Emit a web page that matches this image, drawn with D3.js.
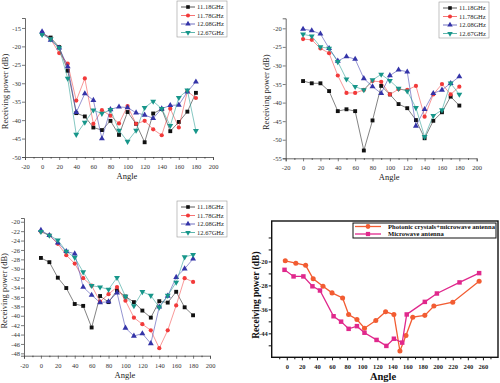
<!DOCTYPE html>
<html>
<head>
<meta charset="utf-8">
<script src="https://cdn.jsdelivr.net/npm/d3@7"></script>
<style>
  body { margin: 0; background: #fff; }
  svg { display: block; }
  text { font-family: "Liberation Serif", "DejaVu Serif", serif; }
</style>
</head>
<body>
<div id="chart"></div>
<script>
// ---- data ----
const angles = [0, 10, 20, 30, 40, 50, 60, 70, 80, 90, 100, 110, 120, 130, 140, 150, 160, 170, 180]
const freqNames = ['11.18GHz', '11.78GHz', '12.08GHz', '12.67GHz']

// panel a (top left)
const a1118 = [-16.5, -17.6, -20.2, -26.6, -38.1, -39, -42, -42.7, -40.2, -44, -37.8, -41, -46, -38.2, -37, -43, -40.5, -37.7, -32.6]
const a1178 = [-16.4, -18, -21.8, -24.7, -34.7, -28.7, -41, -37.3, -38.8, -40.9, -36.2, -41, -40.2, -42.5, -44.1, -36.9, -42, -32.2, -34]
const a1208 = [-16, -18.3, -20.4, -25.5, -37.9, -32.8, -34.6, -45, -37.1, -36.4, -36.6, -38, -38.6, -39.5, -36.9, -36, -35.9, -32.3, -29.6]
const a1267 = [-16.8, -18, -20.4, -28.7, -43.9, -40.6, -37.3, -38.2, -37.2, -42.8, -45.8, -42.8, -36.6, -34.9, -36.9, -41.5, -33.9, -31.9, -42.9]

// panel b (top right)
const b1118 = [-34.2, -34.8, -34.8, -36.9, -42.3, -41.8, -42.3, -52.9, -44.8, -35.5, -37.8, -40.4, -41.5, -44.7, -49.6, -44.9, -42.6, -38.4, -40.8]
const b1178 = [-22.9, -23.1, -25.4, -26.7, -32.7, -37.4, -37.4, -36.6, -34.2, -34.4, -37.8, -36.4, -36.6, -35.5, -43.8, -37.8, -35, -37.8, -35.7]
const b1208 = [-20.2, -20.6, -21.5, -25.4, -28.8, -27.6, -28.3, -33.5, -35.7, -37.5, -32.7, -31.2, -31.7, -46.3, -41.8, -37.5, -36.6, -34.8, -33]
const b1267 = [-21.6, -22.1, -25, -25.4, -29, -33.7, -35.7, -36.6, -33.9, -32.4, -34.1, -36.2, -36.9, -41.4, -49.2, -43.5, -42, -34.8, -37.8]

// panel c (bottom left)
const c1118 = [-27.7, -28.6, -31.9, -34.1, -37.5, -37.9, -42.5, -35.8, -37.1, -34.6, -35.9, -37.1, -38.9, -40.4, -36.9, -37.2, -34.9, -38.2, -39.9]
const c1178 = [-22.1, -22.9, -24.7, -27.1, -28.9, -32, -33.6, -37, -35.4, -33.9, -36.8, -40.4, -41.8, -43.1, -46.9, -43.1, -37.8, -32, -32.8]
const c1208 = [-21.8, -22.9, -24.5, -26.3, -26.8, -33.9, -35.6, -37.2, -37, -35.1, -42.6, -44.3, -43.8, -45.9, -38.1, -35.8, -31.8, -30, -27.9]
const c1267 = [-22.1, -22.9, -23.9, -26.3, -27.6, -30.7, -33.6, -33.9, -34.4, -31.9, -35.9, -37.9, -34.9, -35.7, -38.2, -35.7, -32.9, -27.5, -27]

// panel d (bottom right)
const pcAngles = [-2, 12, 25, 35, 48, 60, 74, 82, 93, 103, 118, 131, 142, 150, 158, 167, 183, 195, 220, 255]
const pcPower = [-19.8, -20.6, -21.3, -25.8, -28.3, -30.5, -32.2, -37.7, -39.4, -42.3, -39.7, -36.8, -37.7, -49.9, -44.7, -38.6, -38, -34.9, -33.6, -26.6]
const mwAngles = [-3, 9, 22, 34, 44, 62, 72, 82, 93, 103, 119, 132, 142, 153, 159, 183, 199, 229, 255]
const mwPower = [-22.8, -25, -25, -28.3, -29.7, -38.3, -40.1, -42.5, -41.6, -43.8, -46.2, -48.2, -45.8, -47.1, -37.7, -33.5, -30.7, -27, -23.9]

const freqColors = ['#111111', '#f23a3a', '#3434a8', '#17968a']
const freqSymbols = [d3.symbolSquare, d3.symbolCircle, d3.symbolTriangle, d3.symbolTriangle]

// plain hyphen instead of unicode minus
const plain = d => String(d)

const svg = d3.select('#chart').append('svg')
    .attr('width', 500)
    .attr('height', 383)

function symbolPath(sym, size) {
    return d3.symbol().type(sym).size(size)()
}

function drawFreqPanel(cfg) {
    const x = d3.scaleLinear().domain([-20, 200]).range([cfg.left, cfg.right])
    const y = d3.scaleLinear().domain(cfg.yDomain).range([cfg.bottom, cfg.top])
    const g = svg.append('g')

    // axes
    const xAxis = d3.axisBottom(x).tickValues(d3.range(-20, 201, 20)).tickSize(3).tickFormat(plain)
    const xMinor = d3.axisBottom(x).tickValues(d3.range(-10, 201, 20)).tickSize(1.5).tickFormat('')
    const yAxis = d3.axisLeft(y).tickValues(cfg.yTicks).tickSize(3).tickFormat(plain)

    const gx = g.append('g').attr('transform', `translate(0,${cfg.bottom})`).call(xAxis)
    g.append('g').attr('transform', `translate(0,${cfg.bottom})`).call(xMinor).select('.domain').remove()
    const gy = g.append('g').attr('transform', `translate(${cfg.left},0)`).call(yAxis)
    ;[gx, gy].forEach(a => {
        a.select('.domain').attr('stroke', '#444').attr('stroke-width', 0.8)
        a.selectAll('.tick line').attr('stroke', '#444').attr('stroke-width', 0.7)
        a.selectAll('text').attr('font-size', 6.5).attr('fill', '#333')
            .style('font-family', '"Liberation Serif", serif')
    })
    gx.selectAll('text').attr('dy', '0.9em')
    gy.selectAll('text').attr('x', -4)
    g.selectAll('.tick line').attr('stroke', '#444')

    g.append('text')
        .attr('x', (cfg.left + cfg.right) / 2 + 8)
        .attr('y', cfg.bottom + 22)
        .attr('text-anchor', 'middle')
        .attr('font-size', 8.5)
        .attr('fill', '#222')
        .text('Angle')

    g.append('text')
        .attr('transform', `translate(${cfg.left - 17},${(cfg.top + cfg.bottom) / 2 + 4}) rotate(-90)`)
        .attr('text-anchor', 'middle')
        .attr('font-size', 8.5)
        .attr('fill', '#222')
        .text('Receiving power (dB)')

    // series
    const line = d3.line().x((d, i) => x(angles[i])).y(d => y(d))
    cfg.series.forEach((vals, k) => {
        g.append('path')
            .attr('d', line(vals))
            .attr('fill', 'none')
            .attr('stroke', freqColors[k])
            .attr('stroke-opacity', 0.75)
            .attr('stroke-width', 0.7)
        g.selectAll(null)
            .data(vals)
            .enter().append('path')
            .attr('d', symbolPath(freqSymbols[k], k == 1 ? 14 : 15))
            .attr('transform', (d, i) => `translate(${x(angles[i])},${y(d)})` + (k == 3 ? ' rotate(180)' : ''))
            .attr('fill', freqColors[k])
    })

    // legend
    const lg = g.append('g').attr('transform', `translate(${cfg.legX},${cfg.legY})`)
    lg.append('rect')
        .attr('width', 50).attr('height', 36)
        .attr('fill', '#fff').attr('stroke', '#999').attr('stroke-width', 0.6)
    freqNames.forEach((name, k) => {
        const ly = 6 + k * 8.5
        lg.append('line')
            .attr('x1', 4).attr('x2', 18).attr('y1', ly).attr('y2', ly)
            .attr('stroke', freqColors[k]).attr('stroke-width', 0.7)
        lg.append('path')
            .attr('d', symbolPath(freqSymbols[k], 13))
            .attr('transform', `translate(11,${ly})` + (k == 3 ? ' rotate(180)' : ''))
            .attr('fill', freqColors[k])
        lg.append('text')
            .attr('x', 20).attr('y', ly + 2.3)
            .attr('font-size', 6.5).attr('fill', '#222')
            .text(name)
    })
}

drawFreqPanel({
    left: 25, right: 213, top: 18, bottom: 157,
    yDomain: [-50, -12.3], yTicks: d3.range(-50, -14, 5),
    series: [a1118, a1178, a1208, a1267],
    legX: 177, legY: 1
})

drawFreqPanel({
    left: 285.7, right: 476.7, top: 18.3, bottom: 158.3,
    yDomain: [-55, -17.3], yTicks: d3.range(-55, -19, 5),
    series: [b1118, b1178, b1208, b1267],
    legX: 439, legY: 2
})

drawFreqPanel({
    left: 24, right: 210, top: 218, bottom: 355.7,
    yDomain: [-48.5, -19.2], yTicks: d3.range(-48, -19, 2),
    series: [c1118, c1178, c1208, c1267],
    legX: 177, legY: 201
})

// ---- panel d ----
function drawAntennaPanel() {
    const left = 271.7, right = 498, top = 221, bottom = 357.3
    const x = d3.scaleLinear().domain([-20, 280]).range([left, right])
    const y = d3.scaleLinear().domain([-52, -6.5]).range([bottom, top])
    const g = svg.append('g')

    g.append('rect')
        .attr('x', left).attr('y', top)
        .attr('width', right - left).attr('height', bottom - top)
        .attr('fill', 'none').attr('stroke', '#111').attr('stroke-width', 1.4)

    const xAxis = d3.axisBottom(x).tickValues(d3.range(0, 261, 20)).tickSize(3).tickFormat(plain)
    const xMinor = d3.axisBottom(x).tickValues(d3.range(-10, 280, 20)).tickSize(2).tickFormat('')
    const yAxis = d3.axisLeft(y).tickValues(d3.range(-48, -11, 4)).tickSize(3)
        .tickFormat(d => [-20, -28, -36, -44].includes(d) ? String(d) : '')

    const gx = g.append('g').attr('transform', `translate(0,${bottom})`).call(xAxis)
    const gm = g.append('g').attr('transform', `translate(0,${bottom})`).call(xMinor)
    const gy = g.append('g').attr('transform', `translate(${left},0)`).call(yAxis)
    ;[gx, gm, gy].forEach(a => {
        a.select('.domain').remove()
        a.selectAll('.tick line').attr('stroke', '#111').attr('stroke-width', 1)
        a.selectAll('text').attr('font-size', 6.5).attr('font-weight', 'bold').attr('fill', '#222')
            .style('font-family', '"Liberation Serif", serif')
    })
    gx.selectAll('text').attr('dy', '0.95em')
    gy.selectAll('text').attr('x', -4)

    g.append('text')
        .attr('x', 383).attr('y', 380)
        .attr('text-anchor', 'middle')
        .attr('font-size', 10.5).attr('font-weight', 'bold').attr('fill', '#111')
        .text('Angle')
    g.append('text')
        .attr('transform', `translate(259,${(top + bottom) / 2 + 6}) rotate(-90)`)
        .attr('text-anchor', 'middle')
        .attr('font-size', 9.5).attr('font-weight', 'bold').attr('fill', '#111')
        .text('Receiving power (dB)')

    const series = [
        { name: 'Photonic crystals+microwave antenna', xs: pcAngles, ys: pcPower, color: '#f25c32', sym: d3.symbolCircle },
        { name: 'Microwave antenna', xs: mwAngles, ys: mwPower, color: '#e0288c', sym: d3.symbolSquare }
    ]
    series.forEach(s => {
        const line = d3.line().x((d, i) => x(s.xs[i])).y(d => y(d))
        g.append('path')
            .attr('d', line(s.ys))
            .attr('fill', 'none').attr('stroke', s.color).attr('stroke-width', 1.3)
        g.selectAll(null)
            .data(s.ys)
            .enter().append('path')
            .attr('d', symbolPath(s.sym, 20))
            .attr('transform', (d, i) => `translate(${x(s.xs[i])},${y(d)})`)
            .attr('fill', s.color)
    })

    const lg = g.append('g').attr('transform', 'translate(353,223)')
    lg.append('rect')
        .attr('width', 143).attr('height', 15)
        .attr('fill', '#fff').attr('stroke', '#111').attr('stroke-width', 1)
    series.forEach((s, k) => {
        const ly = 3.5 + k * 7.5
        lg.append('line')
            .attr('x1', 2).attr('x2', 28).attr('y1', ly).attr('y2', ly)
            .attr('stroke', s.color).attr('stroke-width', 1.3)
        lg.append('path')
            .attr('d', symbolPath(s.sym, 18))
            .attr('transform', `translate(15,${ly})`)
            .attr('fill', s.color)
        lg.append('text')
            .attr('x', 35).attr('y', ly + 2.3)
            .attr('font-size', 6.6).attr('font-weight', 'bold').attr('fill', '#111')
            .text(s.name)
    })
}

drawAntennaPanel()
</script>
</body>
</html>
